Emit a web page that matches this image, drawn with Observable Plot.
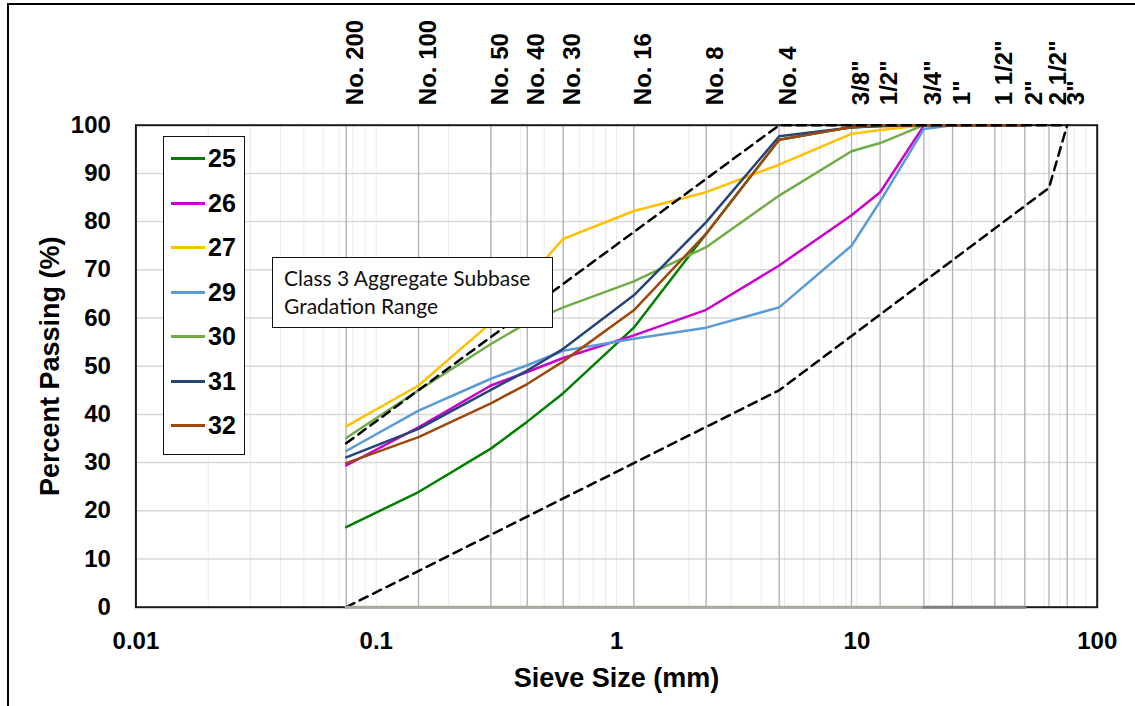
<!DOCTYPE html>
<html>
<head>
<meta charset="utf-8">
<script src="https://cdn.jsdelivr.net/npm/d3@7"></script>
<script src="https://cdn.jsdelivr.net/npm/@observablehq/plot@0.6"></script>
<style>
  body { margin: 0; background: #fff; }
  #wrap { position: relative; width: 1135px; height: 706px; overflow: hidden; background: #fff; }
  #wrap svg { position: absolute; left: 0; top: 0; }
  #outer { position: absolute; left: 7px; top: 3px; width: 3000px; height: 3000px;
           border-top: 2px solid #000; border-left: 2px solid #000; box-sizing: border-box; pointer-events: none; }
  #legend { position: absolute; left: 163px; top: 136px; width: 82px; height: 319px;
            border: 1.5px solid #111; background: #fff; box-sizing: border-box; }
  .lg-item { position: absolute; left: 7px; height: 30px; display: flex; align-items: center;
             font: bold 25px "Liberation Sans", Arial, sans-serif; color: #000; }
  .lg-line { width: 34px; height: 3px; margin-right: 3px; }
  #note { position: absolute; left: 272px; top: 257px; width: 281px; height: 71px;
          border: 1.5px solid #111; background: #fff; box-sizing: border-box;
          padding: 6px 0 0 11px; font: 21px Lato, "Open Sans", sans-serif; line-height: 28px; color: #111; white-space: nowrap; }
</style>
</head>
<body>
<div id="wrap"></div>
<script>
// ---- data ----
const sieveSizes  = [0.075, 0.15, 0.3, 0.425, 0.6, 1.18, 2.36, 4.75, 9.5, 12.5, 19, 25, 37.5, 50, 63, 75];
const sieveLabels = ["No. 200", "No. 100", "No. 50", "No. 40", "No. 30", "No. 16", "No. 8", "No. 4",
                     '3/8"', '1/2"', '3/4"', '1"', '1 1/2"', '2"', '2 1/2"', '3"'];

const sampleSizes = [0.075, 0.15, 0.3, 0.425, 0.6, 1.18, 2.36, 4.75, 9.5, 12.5, 19, 25, 37.5, 50];
const seriesNames  = ["25", "26", "27", "29", "30", "31", "32"];
const seriesColors = ["#008000", "#cc00cc", "#ffc000", "#5b9bd5", "#70ad47", "#264478", "#9e480e"];
const s25 = [16.6, 23.9, 32.9, 38.5, 44.4, 58.0, 77.5, 97.0, 99.6, 99.8, 100, 100, 100, 100];
const s26 = [29.4, 37.3, 46.0, 48.8, 51.7, 56.4, 61.7, 70.9, 81.3, 86.1, 99.9, 100, 100, 100];
const s27 = [37.5, 46.0, 59.0, 68.0, 76.4, 82.2, 86.1, 91.8, 98.2, 99.0, 100, 100, 100, 100];
const s29 = [32.4, 40.8, 47.4, 50.2, 53.2, 55.7, 58.0, 62.2, 75.0, 84.2, 99.2, 100, 100, 100];
const s30 = [35.1, 45.0, 54.6, 59.0, 62.2, 67.6, 74.7, 85.4, 94.6, 96.3, 100, 100, 100, 100];
const s31 = [31.1, 37.0, 45.1, 49.1, 53.6, 64.7, 79.9, 97.7, 99.5, 99.9, 100, 100, 100, 100];
const s32 = [29.9, 35.3, 42.3, 46.3, 51.0, 61.6, 77.5, 97.0, 99.6, 100, 100, 100, 100, 100];
const seriesValues = [s25, s26, s27, s29, s30, s31, s32];

const specUpperSizes = [0.075, 4.75, 75];
const specUpperPct   = [34, 100, 100];
const specLowerSizes = [0.075, 4.75, 63, 75];
const specLowerPct   = [0, 45, 87, 100];

const baseSizesA = [0.075, 19];
const baseSizesB = [19, 50];
const basePct    = [0, 0];

const yTicks = [0, 10, 20, 30, 40, 50, 60, 70, 80, 90, 100];
const xTicks = [0.01, 0.1, 1, 10, 100];
const xTickLabels = ["0.01", "0.1", "1", "10", "100"];
const noteLines = ["Class 3 Aggregate Subbase", "Gradation Range"];

// ---- tables ----
const rows = [];
seriesNames.forEach((n, i) => sampleSizes.forEach((s, j) => rows.push({series: n, size: s, pct: seriesValues[i][j]})));
const upper = specUpperSizes.map((s, i) => ({size: s, pct: specUpperPct[i]}));
const lower = specLowerSizes.map((s, i) => ({size: s, pct: specLowerPct[i]}));
const baseA = baseSizesA.map((s, i) => ({size: s, pct: basePct[i]}));
const baseB = baseSizesB.map((s, i) => ({size: s, pct: basePct[i]}));
const sieveRows = sieveSizes.map((s, i) => ({size: s, label: sieveLabels[i]}));
const minorGrid = d3.scaleLog().domain([0.01, 100]).ticks();

const W = 1135, H = 706;
const chart = Plot.plot({
  width: W, height: H,
  marginLeft: 135.4, marginRight: 38.3, marginTop: 124.7, marginBottom: 99.3,
  style: {fontFamily: "'Liberation Sans', Arial, sans-serif", fontSize: "24px", fontWeight: "bold",
          color: "#000", background: "transparent", overflow: "visible"},
  x: {type: "log", domain: [0.01, 100]},
  y: {domain: [0, 100]},
  color: {domain: seriesNames, range: seriesColors},
  marks: [
    Plot.ruleX(minorGrid, {stroke: "#ebebeb", strokeWidth: 1}),
    Plot.ruleY(yTicks.filter(d => d > 0 && d < 100), {stroke: "#d9d9d9", strokeWidth: 1.5}),
    Plot.ruleX(sieveSizes, {stroke: "#b0b0b0", strokeWidth: 1.3}),
    Plot.frame({stroke: "#1a1a1a", strokeWidth: 2}),
    Plot.line(rows, {x: "size", y: "pct", z: "series", stroke: "series", strokeWidth: 2.5, strokeLinejoin: "round"}),
    Plot.line(upper, {x: "size", y: "pct", stroke: "#000", strokeWidth: 2.5, strokeDasharray: "9,6"}),
    Plot.line(lower, {x: "size", y: "pct", stroke: "#000", strokeWidth: 2.5, strokeDasharray: "9,6"}),
    Plot.line(baseA, {x: "size", y: "pct", stroke: "#a6aca0", strokeWidth: 3}),
    Plot.line(baseB, {x: "size", y: "pct", stroke: "#808080", strokeWidth: 3}),
    Plot.axisY({ticks: yTicks, tickSize: 0, tickPadding: 25, label: null, fontSize: 24}),
    Plot.axisX({ticks: xTicks, tickFormat: d => xTickLabels[xTicks.indexOf(d)], tickSize: 0, tickPadding: 25, label: null, fontSize: 24}),
    Plot.text(sieveRows, {x: "size", text: "label", frameAnchor: "top", rotate: -90, textAnchor: "start", dy: -20, fontSize: 24}),
    Plot.text(["Percent Passing (%)"], {frameAnchor: "left", rotate: -90, textAnchor: "middle", dx: -86, fontSize: 27}),
    Plot.text(["Sieve Size (mm)"], {frameAnchor: "bottom", textAnchor: "middle", lineAnchor: "bottom", dy: 80, fontSize: 27})
  ]
});

const wrap = document.getElementById("wrap");
wrap.appendChild(chart);

const outer = document.createElement("div");
outer.id = "outer";
wrap.appendChild(outer);

const legend = document.createElement("div");
legend.id = "legend";
seriesNames.forEach((n, i) => {
  const item = document.createElement("div");
  item.className = "lg-item";
  item.style.top = (23 + i * 44.5 - 15 - 1.5) + "px";
  const ln = document.createElement("span");
  ln.className = "lg-line";
  ln.style.background = seriesColors[i];
  const tx = document.createElement("span");
  tx.textContent = n;
  item.appendChild(ln);
  item.appendChild(tx);
  legend.appendChild(item);
});
wrap.appendChild(legend);

const note = document.createElement("div");
note.id = "note";
note.innerHTML = noteLines.map(t => `<div>${t}</div>`).join("");
wrap.appendChild(note);
</script>
</body>
</html>
